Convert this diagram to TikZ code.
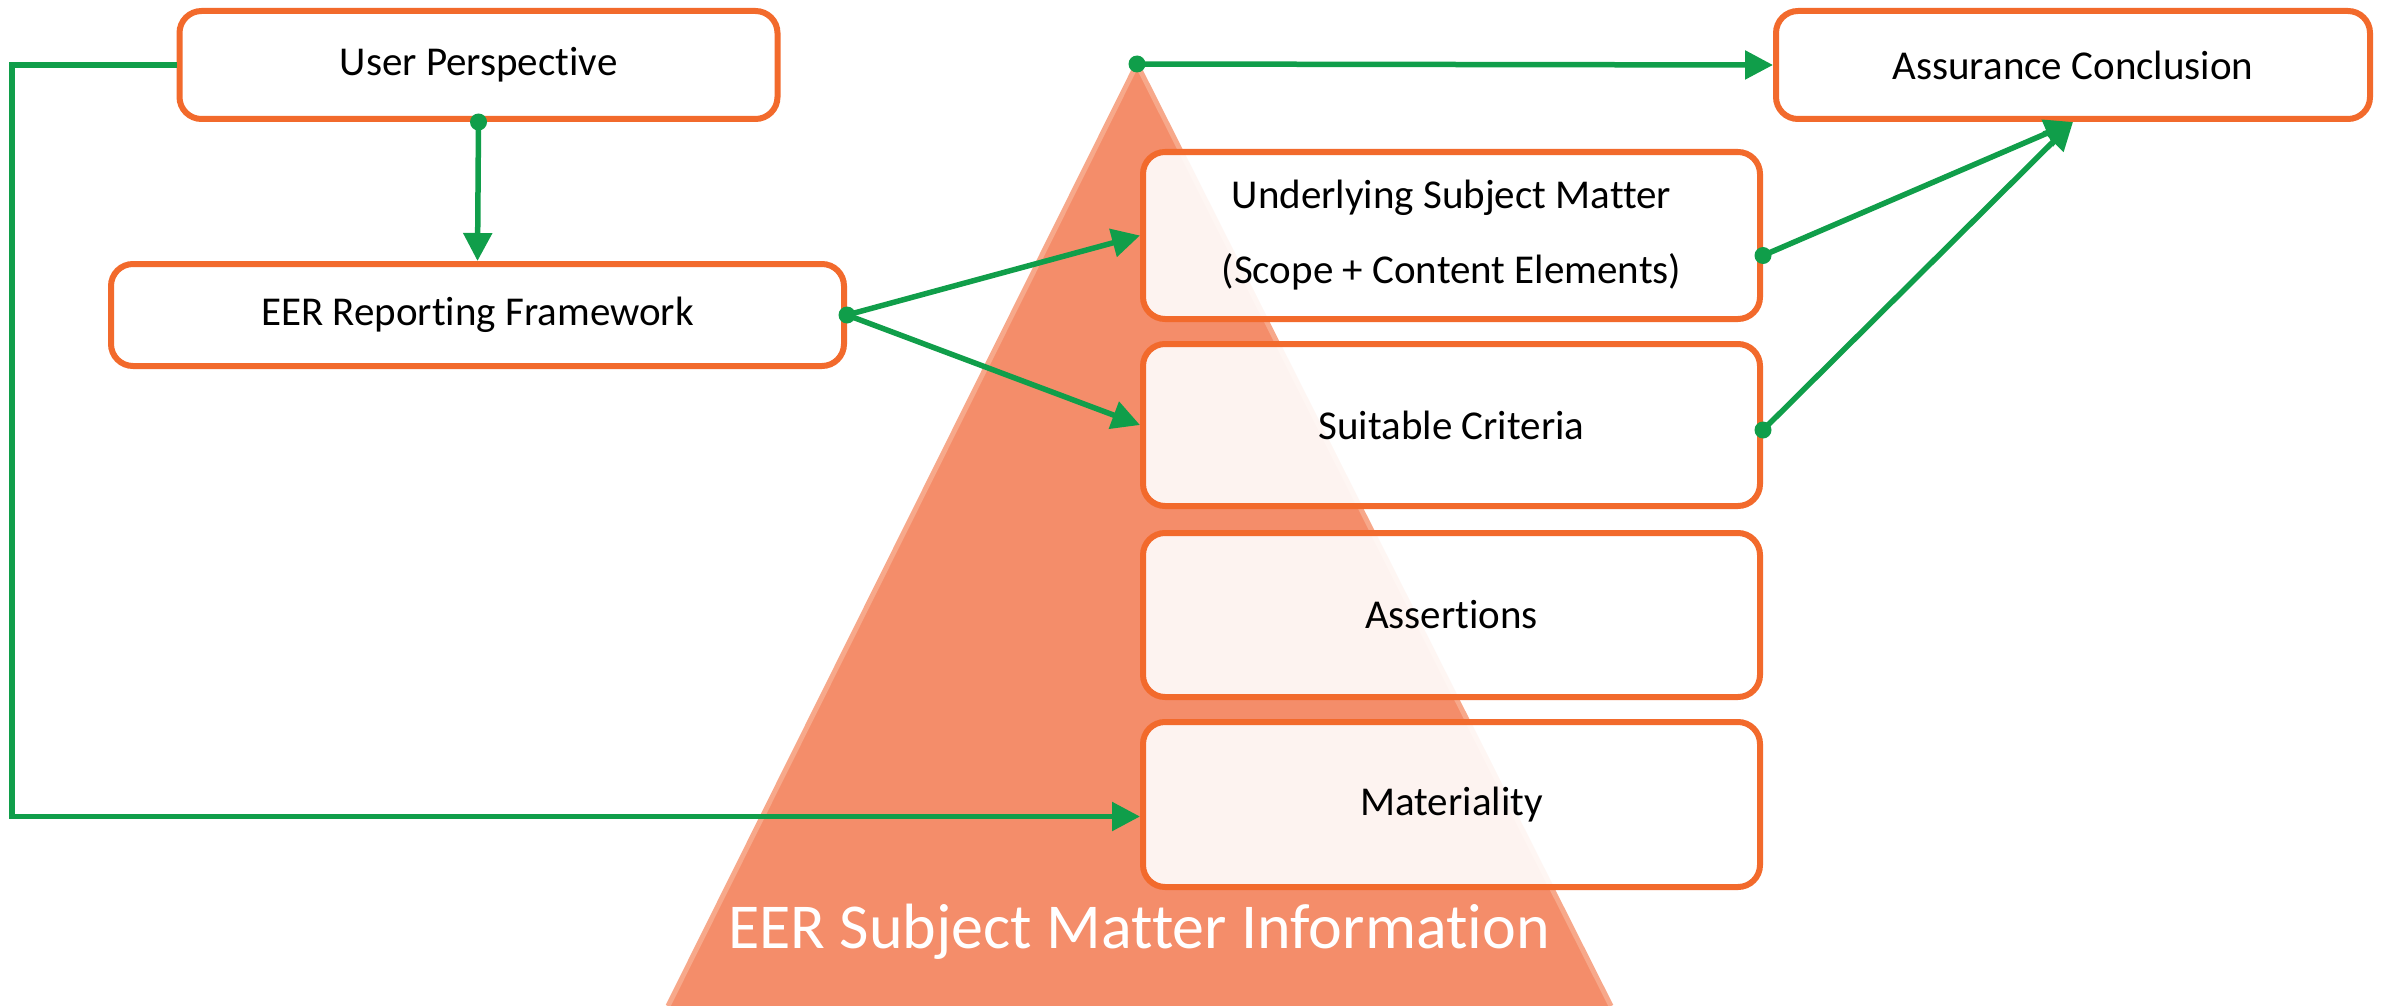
\documentclass[tikz,border=0pt]{standalone}
\usepackage{fontspec}
\setmainfont{Carlito}[Ligatures=NoCommon]
\usetikzlibrary{arrows.meta,calc}
\definecolor{boxorange}{HTML}{F26A2C}
\definecolor{tri}{HTML}{F48D6A}
\definecolor{triedge}{HTML}{F7A88A}
\definecolor{grn}{HTML}{109E4A}
\begin{document}
\begin{tikzpicture}[x=1pt,y=-1pt,
  box/.style={draw=boxorange, line width=6pt, rounded corners=22pt, fill=white, fill opacity=0.9, text opacity=1,
    align=center, font=\fontsize{41}{75}\selectfont, inner sep=0pt},
  conn/.style={draw=grn, line width=5.5pt, -{Triangle[length=28pt,width=28pt]}},
  dot/.style={circle, fill=grn, inner sep=0pt, minimum size=17pt}]
\useasboundingbox (0,0) rectangle (2390,1006);
% pyramid
\coordinate (apex) at (1137,64);
\coordinate (bl) at (668,1006);
\coordinate (br) at (1611,1006);
\fill[tri] (apex) -- (br) -- (bl) -- cycle;
\draw[triedge, line width=5pt, line join=round] (bl) -- (apex) -- (br);
\node[text=white, font=\fontsize{64}{70}\selectfont] (info) at (1139,932) {EER Subject Matter Information};
% boxes
\node[box, minimum width=598pt, minimum height=108pt] (up) at (478.5,65) {User Perspective};
\node[box, minimum width=733pt, minimum height=102pt] (eer) at (477.5,315) {EER Reporting Framework};
\node[box, minimum width=594pt, minimum height=108pt] (ass) at (2073,65) {Assurance Conclusion};
\node[box, minimum width=617pt, minimum height=167pt] (und) at (1451.5,235.5) {Underlying Subject Matter\\(Scope + Content Elements)};
\node[box, minimum width=617pt, minimum height=162pt] (suit) at (1451.5,425) {Suitable Criteria};
\node[box, minimum width=617pt, minimum height=164pt] (asr) at (1451.5,615) {Assertions};
\node[box, minimum width=617pt, minimum height=165pt] (mat) at (1451.5,804.5) {Materiality};
% connector points
\coordinate (lx) at (12,0);
\coordinate (matin) at ([yshift=-12pt]mat.west);
\node[dot] (d1) at (up.south) {};
\node[dot] (d2) at (eer.east) {};
\node[dot] (d0) at (apex) {};
\node[dot] (d3) at ([yshift=-20pt]und.east) {};
\node[dot] (d4) at ([yshift=-5pt]suit.east) {};
% connectors
\draw[conn] (up.west) -- (lx |- up.west) -- (lx |- matin) -- (matin);
\draw[conn] (d1.center) -- (eer.north);
\draw[conn] (d2.center) -- (und.west);
\draw[conn] (d2.center) -- (suit.west);
\draw[conn] (d0.center) -- (ass.west);
\draw[conn] (d3.center) -- (ass.south);
\draw[conn] (d4.center) -- (ass.south);
\end{tikzpicture}
\end{document}
